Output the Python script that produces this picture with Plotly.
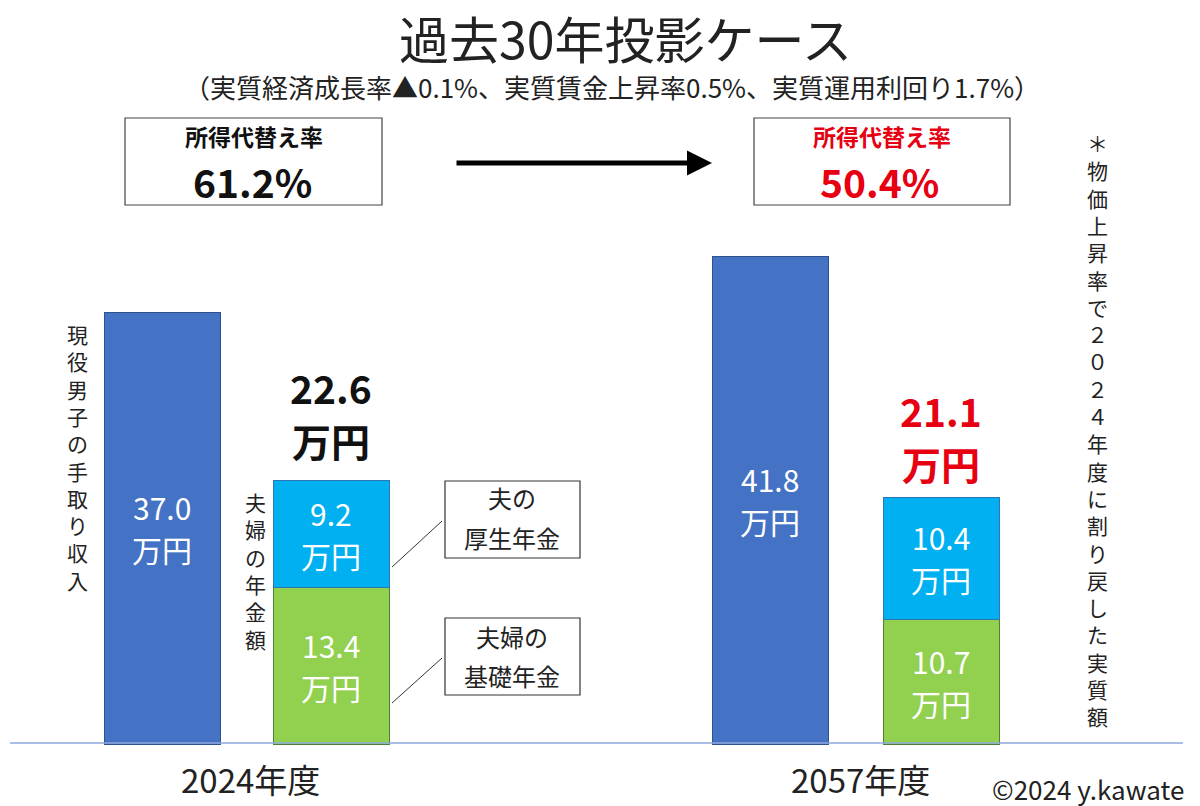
import plotly.graph_objects as go

# ---- data ----
years = ["2024年度", "2057年度"]
income = [37.0, 41.8]            # 現役男子の手取り収入 (万円)
basic_pension = [13.4, 10.7]     # 夫婦の基礎年金 (万円)
employee_pension = [9.2, 10.4]   # 夫の厚生年金 (万円)
pension_total = [22.6, 21.1]     # 夫婦の年金額 (万円)
replacement_rate = ["61.2%", "50.4%"]

# ---- layout constants (pixel based) ----
W, H = 1200, 806
BASE_PX = 744
SCALE = 11.67  # px per 万円
x_income = [162, 770]
x_pension = [331, 941]
BAR_W = 116

FONT = "Noto Sans CJK JP"
BLUE = "#4472C4"
CYAN = "#00B0F0"
GREEN = "#92D050"
RED = "#E60012"
TXT = "#222222"


def px(x):
    return x / W


def py(y):
    return 1 - y / H


annotations = []

fig = go.Figure()
for xs, vals, bases, col, edge in [
    (x_income, income, [0, 0], BLUE, "#2F528F"),
    (x_pension, basic_pension, [0, 0], GREEN, "#507E32"),
    (x_pension, employee_pension, basic_pension, CYAN, "#2E75B6"),
]:
    fig.add_trace(go.Bar(
        x=xs, y=vals, width=BAR_W,
        marker=dict(color=col, line=dict(color=edge, width=1)),
        hoverinfo="skip",
    ))
    # value labels inside each bar segment (placed in data coordinates)
    for xv, v, b in zip(xs, vals, bases):
        for txt, shift in ((f"{v:.1f}", 21), ("万円", -21)):
            annotations.append(dict(
                x=xv, y=b + v / 2, xref="x", yref="y", yshift=shift, text=txt,
                showarrow=False, xanchor="center", yanchor="middle",
                font=dict(family=FONT, size=30, color="white"),
            ))


def ann(x, y, text, size, color=TXT, bold=False, xanchor="center", yanchor="middle"):
    annotations.append(dict(
        x=px(x), y=py(y), xref="paper", yref="paper", text=(f"<b>{text}</b>" if bold else text),
        showarrow=False, xanchor=xanchor, yanchor=yanchor,
        font=dict(family=FONT, size=size, color=color),
    ))


def vtext(x, ycenter, text, size=21):
    # vertical writing: one character per line (line pitch = 1.3 x size)
    ann(x, ycenter, "<br>".join(list(text)), size)


# title
ann(625, 37, "過去30年投影ケース", 50)
ann(612, 87, "（実質経済成長率▲0.1%、実質賃金上昇率0.5%、実質運用利回り1.7%）", 26)

# replacement-rate boxes
ann(254, 136, "所得代替え率", 23, "#111", True)
ann(252, 181, replacement_rate[0], 39, "#111", True)
ann(882, 136, "所得代替え率", 23, RED, True)
ann(880, 181, replacement_rate[1], 39, RED, True)

# arrow
annotations.append(dict(
    x=px(712), y=py(163), xref="paper", yref="paper", ax=-257, ay=0,
    axref="pixel", ayref="pixel", showarrow=True, text="",
    arrowhead=2, arrowsize=1.0, arrowwidth=5, arrowcolor="black",
))

# totals
ann(x_pension[0], 387, f"{pension_total[0]:.1f}", 39, "#111", True)
ann(x_pension[0], 440, "万円", 39, "#111", True)
ann(x_pension[1], 410, f"{pension_total[1]:.1f}", 39, RED, True)
ann(x_pension[1], 463, "万円", 39, RED, True)

# vertical labels
vtext(77, 457, "現役男子の手取り収入")
vtext(255, 570, "夫婦の年金額")
vtext(1097, 429, "＊物価上昇率で２０２４年度に割り戻した実質額")

# callouts
ann(512, 498, "夫の", 24)
ann(512, 537, "厚生年金", 24)
ann(512, 636, "夫婦の", 24)
ann(512, 675, "基礎年金", 24)

# x labels
ann(250, 779, years[0], 33)
ann(860, 779, years[1], 33)
ann(1186, 788, "©2024 y.kawate", 26, TXT, False, "right")

shapes = [
    dict(type="line", xref="paper", yref="paper", x0=px(10), x1=px(1183), y0=py(743), y1=py(743),
         line=dict(color="#8FAADC", width=1.5)),
    dict(type="rect", xref="paper", yref="paper", x0=px(125), x1=px(382), y0=py(118), y1=py(205),
         line=dict(color="#444", width=1.2)),
    dict(type="rect", xref="paper", yref="paper", x0=px(754), x1=px(1010), y0=py(118), y1=py(205),
         line=dict(color="#444", width=1.2)),
    dict(type="rect", xref="paper", yref="paper", x0=px(445), x1=px(580), y0=py(481), y1=py(558),
         line=dict(color="#333", width=1.2)),
    dict(type="rect", xref="paper", yref="paper", x0=px(445), x1=px(580), y0=py(618), y1=py(695),
         line=dict(color="#333", width=1.2)),
    dict(type="line", xref="paper", yref="paper", x0=px(442), x1=px(392), y0=py(521), y1=py(567),
         line=dict(color="#333", width=1)),
    dict(type="line", xref="paper", yref="paper", x0=px(442), x1=px(392), y0=py(658), y1=py(703),
         line=dict(color="#333", width=1)),
]

fig.update_layout(
    width=W, height=H, margin=dict(l=0, r=0, t=0, b=0),
    paper_bgcolor="white", plot_bgcolor="white",
    barmode="stack", showlegend=False,
    xaxis=dict(range=[0, W], visible=False, fixedrange=True),
    yaxis=dict(range=[-(H - BASE_PX) / SCALE, BASE_PX / SCALE], visible=False, fixedrange=True),
    annotations=annotations, shapes=shapes,
    font=dict(family=FONT),
)

fig.write_html("out.html")
